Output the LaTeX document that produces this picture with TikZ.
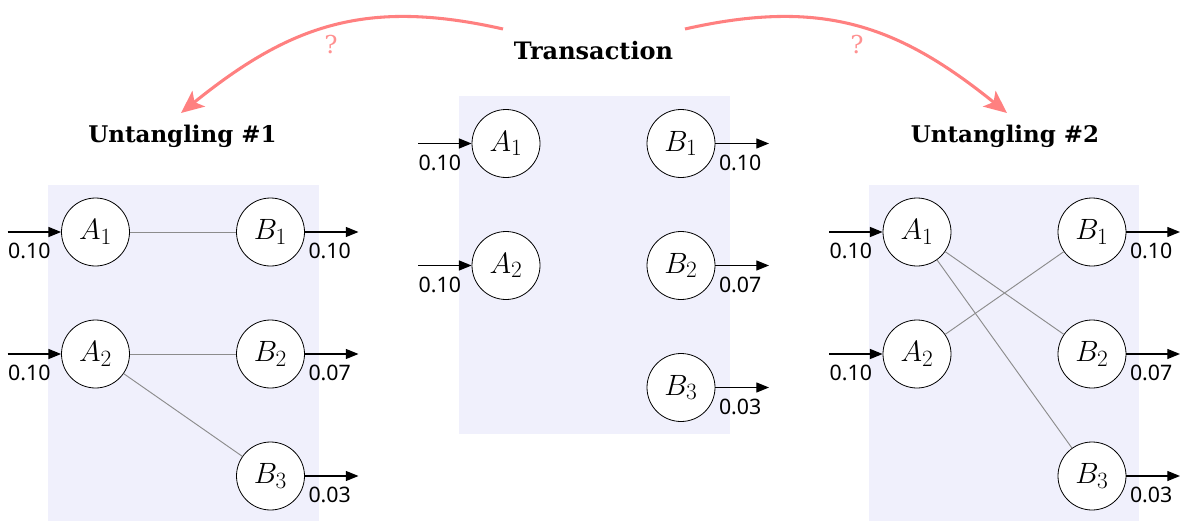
\RequirePackage{fix-cm}
\documentclass[tikz,border=0pt]{standalone}
\usepackage{fontspec}
\setmainfont{DejaVu Serif}
\newfontfamily\numfont{Noto Sans}
\DeclareMathSizes{22}{22}{17.5}{13}
\usetikzlibrary{arrows.meta,calc}
\definecolor{panelcol}{RGB}{240,240,252}
\definecolor{salmon}{RGB}{255,128,128}
\definecolor{qmcol}{RGB}{255,145,145}
\definecolor{linkcol}{RGB}{140,140,140}
\begin{document}
\begin{tikzpicture}[x=0.75pt,y=0.75pt,
  panelbg/.style={fill=panelcol,draw=none},
  st/.style={circle,draw,line width=0.6pt,fill=white,minimum size=51pt,inner sep=0pt,font=\fontsize{22}{26}\selectfont},
  flow/.style={line width=0.9pt,-{Triangle[length=9.5pt,width=7.5pt]}},
  link/.style={draw=linkcol,line width=0.7pt},
  num/.style={font=\numfont\fontsize{16}{19}\selectfont,inner sep=0pt},
  inlbl/.style={num,pos=1,anchor=north east,xshift=-7.5pt,yshift=-8pt},
  outlbl/.style={num,pos=0,anchor=north west,xshift=2.25pt,yshift=-8pt},
  ttl/.style={font=\bfseries\fontsize{18}{22}\selectfont,anchor=base},
  subttl/.style={font=\bfseries\fontsize{17.2}{21}\selectfont,anchor=base},
  bigarrow/.style={draw=salmon,line width=2.3pt,-{Stealth[length=17pt,width=15pt,inset=4pt]}},
  qm/.style={text=qmcol,font=\fontsize{18.5}{22}\selectfont,inner sep=0pt}
]
\useasboundingbox (0,0) rectangle (1183,-521);

% panels
\fill[panelbg] (48,-185) rectangle (319,-521);
\fill[panelbg] (459,-96) rectangle (730,-434);
\fill[panelbg] (869,-185) rectangle (1139,-521);

% titles
\node[ttl] (t)  at (593.5,-59) {Transaction};
\node[subttl] (u1) at (182.5,-142) {Untangling \#1};
\node[subttl] (u2) at (1005,-142) {Untangling \#2};

% big arrows
\coordinate (s1) at (503,-29);
\coordinate (e1) at (181,-113);
\coordinate (s2) at (685,-29);
\coordinate (e2) at (1007,-113);
\draw[bigarrow] (s1) .. controls (366,2) and (290,-25) .. (e1);
\draw[bigarrow] (s2) .. controls (822,2) and (898,-25) .. (e2);
\node[qm] (q1) at (331,-45) {?};
\node[qm] (q2) at (857,-45) {?};

% left panel
\node[st] (LA1) at (95.5,-232) {$A_1$};
\node[st] (LA2) at (95.5,-354) {$A_2$};
\node[st] (LB1) at (270.5,-232) {$B_1$};
\node[st] (LB2) at (270.5,-354) {$B_2$};
\node[st] (LB3) at (270.5,-476) {$B_3$};
\draw[link] (LA1) -- (LB1);
\draw[link] (LA2) -- (LB2);
\draw[link] (LA2) -- (LB3);
\coordinate (LA1in) at (7.5,-232);
\coordinate (LA2in) at (7.5,-354);
\coordinate (LB1out) at (358.5,-232);
\coordinate (LB2out) at (358.5,-354);
\coordinate (LB3out) at (358.5,-476);
\draw[flow] (LA1in) -- (LA1) node[inlbl] {0.10};
\draw[flow] (LA2in) -- (LA2) node[inlbl] {0.10};
\draw[flow] (LB1) -- (LB1out) node[outlbl] {0.10};
\draw[flow] (LB2) -- (LB2out) node[outlbl] {0.07};
\draw[flow] (LB3) -- (LB3out) node[outlbl] {0.03};

% middle panel
\node[st] (MA1) at (506,-143.5) {$A_1$};
\node[st] (MA2) at (506,-265.5) {$A_2$};
\node[st] (MB1) at (681,-143.5) {$B_1$};
\node[st] (MB2) at (681,-265.5) {$B_2$};
\node[st] (MB3) at (681,-387.5) {$B_3$};
\coordinate (MA1in) at (418,-143.5);
\coordinate (MA2in) at (418,-265.5);
\coordinate (MB1out) at (769,-143.5);
\coordinate (MB2out) at (769,-265.5);
\coordinate (MB3out) at (769,-387.5);
\draw[flow] (MA1in) -- (MA1) node[inlbl] {0.10};
\draw[flow] (MA2in) -- (MA2) node[inlbl] {0.10};
\draw[flow] (MB1) -- (MB1out) node[outlbl] {0.10};
\draw[flow] (MB2) -- (MB2out) node[outlbl] {0.07};
\draw[flow] (MB3) -- (MB3out) node[outlbl] {0.03};

% right panel
\node[st] (RA1) at (917,-232) {$A_1$};
\node[st] (RA2) at (917,-354) {$A_2$};
\node[st] (RB1) at (1092,-232) {$B_1$};
\node[st] (RB2) at (1092,-354) {$B_2$};
\node[st] (RB3) at (1092,-476) {$B_3$};
\draw[link] (RA1) -- (RB2);
\draw[link] (RA1) -- (RB3);
\draw[link] (RA2) -- (RB1);
\coordinate (RA1in) at (829,-232);
\coordinate (RA2in) at (829,-354);
\coordinate (RB1out) at (1180,-232);
\coordinate (RB2out) at (1180,-354);
\coordinate (RB3out) at (1180,-476);
\draw[flow] (RA1in) -- (RA1) node[inlbl] {0.10};
\draw[flow] (RA2in) -- (RA2) node[inlbl] {0.10};
\draw[flow] (RB1) -- (RB1out) node[outlbl] {0.10};
\draw[flow] (RB2) -- (RB2out) node[outlbl] {0.07};
\draw[flow] (RB3) -- (RB3out) node[outlbl] {0.03};
\end{tikzpicture}
\end{document}
